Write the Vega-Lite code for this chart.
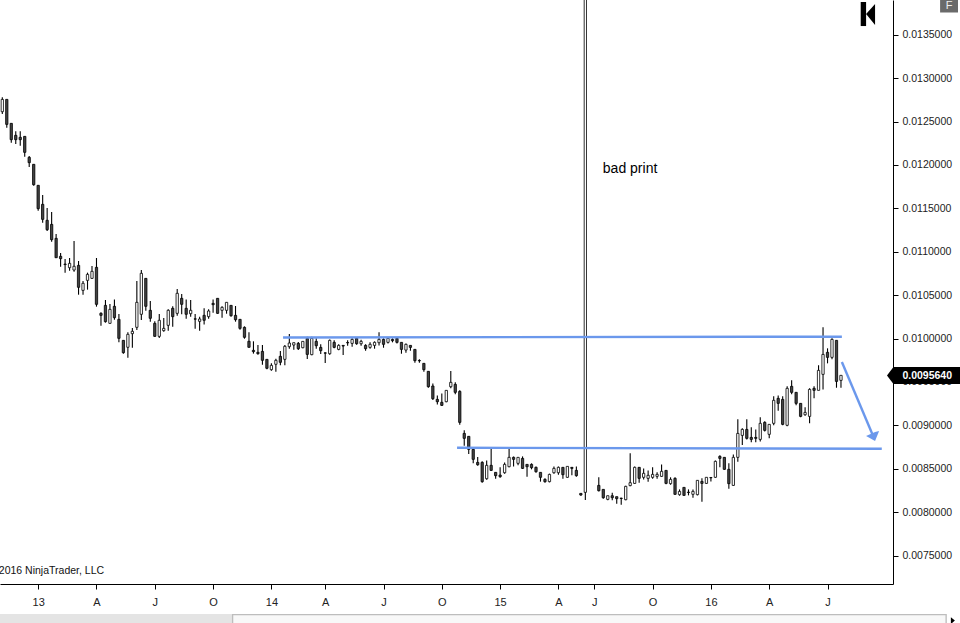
{
  "$schema": "https://vega.github.io/schema/vega-lite/v6.json",
  "width": 893,
  "height": 584,
  "autosize": "none",
  "padding": {"left": 0, "top": 0, "right": 67, "bottom": 39},
  "background": "white",
  "config": {"view": {"stroke": null}, "font": "Liberation Sans"},
  "datasets": {
    "candles": [
      {"bar":0,"open":0.012613,"high":0.012779,"low":0.012586,"close":0.012755},
      {"bar":1,"open":0.012755,"high":0.012755,"low":0.012429,"close":0.012467},
      {"bar":2,"open":0.012479,"high":0.012479,"low":0.012256,"close":0.012291},
      {"bar":3,"open":0.012341,"high":0.012387,"low":0.012241,"close":0.012291},
      {"bar":4,"open":0.012318,"high":0.012387,"low":0.012222,"close":0.012291},
      {"bar":5,"open":0.012329,"high":0.012329,"low":0.012095,"close":0.012145},
      {"bar":6,"open":0.012087,"high":0.012103,"low":0.011976,"close":0.012026},
      {"bar":7,"open":0.012007,"high":0.012007,"low":0.011761,"close":0.011772},
      {"bar":8,"open":0.011765,"high":0.011765,"low":0.011473,"close":0.011496},
      {"bar":9,"open":0.011546,"high":0.011653,"low":0.011335,"close":0.011373},
      {"bar":10,"open":0.011362,"high":0.011504,"low":0.011239,"close":0.011254},
      {"bar":11,"open":0.011315,"high":0.011458,"low":0.011116,"close":0.011139},
      {"bar":12,"open":0.011154,"high":0.011204,"low":0.010931,"close":0.010931},
      {"bar":13,"open":0.010947,"high":0.010985,"low":0.010828,"close":0.01092},
      {"bar":14,"open":0.010858,"high":0.010916,"low":0.010759,"close":0.010852},
      {"bar":15,"open":0.010816,"high":0.010928,"low":0.010782,"close":0.010866},
      {"bar":16,"open":0.010789,"high":0.011123,"low":0.01077,"close":0.010832},
      {"bar":17,"open":0.010843,"high":0.010893,"low":0.010505,"close":0.01059},
      {"bar":18,"open":0.010555,"high":0.010663,"low":0.010505,"close":0.010636},
      {"bar":19,"open":0.01067,"high":0.010759,"low":0.010563,"close":0.010739},
      {"bar":20,"open":0.010693,"high":0.010835,"low":0.010686,"close":0.010774},
      {"bar":21,"open":0.01082,"high":0.010928,"low":0.010367,"close":0.010394},
      {"bar":22,"open":0.01029,"high":0.010302,"low":0.010148,"close":0.010267},
      {"bar":23,"open":0.010382,"high":0.010444,"low":0.010183,"close":0.010194},
      {"bar":24,"open":0.010175,"high":0.010398,"low":0.010171,"close":0.010336},
      {"bar":25,"open":0.010371,"high":0.010451,"low":0.010217,"close":0.01024},
      {"bar":26,"open":0.010221,"high":0.010283,"low":0.009956,"close":0.010002},
      {"bar":27,"open":0.009979,"high":0.009979,"low":0.009826,"close":0.009837},
      {"bar":28,"open":0.009899,"high":0.010071,"low":0.009779,"close":0.010048},
      {"bar":29,"open":0.010056,"high":0.010121,"low":0.009895,"close":0.010083},
      {"bar":30,"open":0.010129,"high":0.010663,"low":0.010098,"close":0.010417},
      {"bar":31,"open":0.010279,"high":0.010789,"low":0.010213,"close":0.010751},
      {"bar":32,"open":0.010693,"high":0.010693,"low":0.010321,"close":0.010371},
      {"bar":33,"open":0.010325,"high":0.010432,"low":0.010194,"close":0.010233},
      {"bar":34,"open":0.010175,"high":0.010198,"low":0.010021,"close":0.010025},
      {"bar":35,"open":0.010025,"high":0.010283,"low":0.010006,"close":0.01021},
      {"bar":36,"open":0.010091,"high":0.010236,"low":0.010079,"close":0.010117},
      {"bar":37,"open":0.010152,"high":0.010336,"low":0.010091,"close":0.010325},
      {"bar":38,"open":0.010348,"high":0.010371,"low":0.010137,"close":0.010252},
      {"bar":39,"open":0.01029,"high":0.010571,"low":0.010263,"close":0.010521},
      {"bar":40,"open":0.010463,"high":0.010513,"low":0.010279,"close":0.010394},
      {"bar":41,"open":0.010348,"high":0.010451,"low":0.010229,"close":0.010279},
      {"bar":42,"open":0.010286,"high":0.010444,"low":0.010252,"close":0.010325},
      {"bar":43,"open":0.010227,"high":0.010283,"low":0.010114,"close":0.010223},
      {"bar":44,"open":0.010198,"high":0.010252,"low":0.010091,"close":0.010225},
      {"bar":45,"open":0.010267,"high":0.010348,"low":0.010163,"close":0.01021},
      {"bar":46,"open":0.010252,"high":0.010336,"low":0.010229,"close":0.010317},
      {"bar":47,"open":0.010405,"high":0.010451,"low":0.010298,"close":0.01039},
      {"bar":48,"open":0.010463,"high":0.010463,"low":0.010286,"close":0.01029},
      {"bar":49,"open":0.010325,"high":0.010371,"low":0.01024,"close":0.010359},
      {"bar":50,"open":0.010325,"high":0.010417,"low":0.010286,"close":0.010417},
      {"bar":51,"open":0.010382,"high":0.010382,"low":0.010252,"close":0.010263},
      {"bar":52,"open":0.010267,"high":0.010375,"low":0.010194,"close":0.010217},
      {"bar":53,"open":0.010221,"high":0.010221,"low":0.010102,"close":0.010117},
      {"bar":54,"open":0.010129,"high":0.01014,"low":0.009998,"close":0.010014},
      {"bar":55,"open":0.009968,"high":0.010071,"low":0.009895,"close":0.009899},
      {"bar":56,"open":0.009864,"high":0.009968,"low":0.009826,"close":0.009849},
      {"bar":57,"open":0.009841,"high":0.009925,"low":0.009814,"close":0.009826},
      {"bar":58,"open":0.009852,"high":0.009925,"low":0.009699,"close":0.009749},
      {"bar":59,"open":0.00976,"high":0.00976,"low":0.009645,"close":0.009657},
      {"bar":60,"open":0.009641,"high":0.009714,"low":0.00963,"close":0.009691},
      {"bar":61,"open":0.009703,"high":0.009768,"low":0.009618,"close":0.009749},
      {"bar":62,"open":0.009795,"high":0.009856,"low":0.009691,"close":0.009726},
      {"bar":63,"open":0.00976,"high":0.009925,"low":0.009691,"close":0.00991},
      {"bar":64,"open":0.009906,"high":0.010052,"low":0.009883,"close":0.009948},
      {"bar":65,"open":0.009925,"high":0.009952,"low":0.009871,"close":0.009952},
      {"bar":66,"open":0.009944,"high":0.00996,"low":0.009867,"close":0.009883},
      {"bar":67,"open":0.009894,"high":0.009967,"low":0.009887,"close":0.009967},
      {"bar":68,"open":0.010002,"high":0.010021,"low":0.009764,"close":0.009817},
      {"bar":69,"open":0.009814,"high":0.010021,"low":0.009806,"close":0.010002},
      {"bar":70,"open":0.009967,"high":0.010002,"low":0.009883,"close":0.009917},
      {"bar":71,"open":0.009898,"high":0.009933,"low":0.009821,"close":0.00986},
      {"bar":72,"open":0.009835,"high":0.009841,"low":0.009718,"close":0.009831},
      {"bar":73,"open":0.009825,"high":0.00999,"low":0.009814,"close":0.009979},
      {"bar":74,"open":0.009956,"high":0.009979,"low":0.009887,"close":0.009898},
      {"bar":75,"open":0.009875,"high":0.009933,"low":0.009864,"close":0.009921},
      {"bar":76,"open":0.009921,"high":0.009921,"low":0.00981,"close":0.009913},
      {"bar":77,"open":0.009954,"high":0.009979,"low":0.009917,"close":0.00995},
      {"bar":78,"open":0.009944,"high":0.010002,"low":0.009906,"close":0.00999},
      {"bar":79,"open":0.010002,"high":0.010002,"low":0.009929,"close":0.00994},
      {"bar":80,"open":0.00994,"high":0.009986,"low":0.009917,"close":0.009967},
      {"bar":81,"open":0.009921,"high":0.009933,"low":0.00986,"close":0.009883},
      {"bar":82,"open":0.009898,"high":0.009956,"low":0.009883,"close":0.009933},
      {"bar":83,"open":0.009921,"high":0.009967,"low":0.009883,"close":0.009956},
      {"bar":84,"open":0.009952,"high":0.010071,"low":0.009921,"close":0.00999},
      {"bar":85,"open":0.00999,"high":0.010002,"low":0.009894,"close":0.009933},
      {"bar":86,"open":0.009956,"high":0.010002,"low":0.009944,"close":0.010002},
      {"bar":87,"open":0.00999,"high":0.010002,"low":0.009956,"close":0.009975},
      {"bar":88,"open":0.010002,"high":0.010013,"low":0.009944,"close":0.009956},
      {"bar":89,"open":0.009956,"high":0.009956,"low":0.009825,"close":0.009875},
      {"bar":90,"open":0.009867,"high":0.009944,"low":0.009837,"close":0.009933},
      {"bar":91,"open":0.009921,"high":0.009921,"low":0.00986,"close":0.009898},
      {"bar":92,"open":0.009875,"high":0.009875,"low":0.009721,"close":0.009745},
      {"bar":93,"open":0.009747,"high":0.00976,"low":0.009721,"close":0.009743},
      {"bar":94,"open":0.009714,"high":0.009714,"low":0.009618,"close":0.009641},
      {"bar":95,"open":0.009622,"high":0.009622,"low":0.009433,"close":0.009445},
      {"bar":96,"open":0.009453,"high":0.009483,"low":0.009291,"close":0.009307},
      {"bar":97,"open":0.009299,"high":0.009345,"low":0.009241,"close":0.009272},
      {"bar":98,"open":0.009265,"high":0.009368,"low":0.009222,"close":0.00923},
      {"bar":99,"open":0.009272,"high":0.009403,"low":0.009265,"close":0.009403},
      {"bar":100,"open":0.009445,"high":0.009625,"low":0.009426,"close":0.009495},
      {"bar":101,"open":0.009472,"high":0.009495,"low":0.009357,"close":0.00938},
      {"bar":102,"open":0.009391,"high":0.009403,"low":0.009007,"close":0.009034},
      {"bar":103,"open":0.008907,"high":0.008942,"low":0.008765,"close":0.00885},
      {"bar":104,"open":0.008873,"high":0.008873,"low":0.008669,"close":0.008723},
      {"bar":105,"open":0.008723,"high":0.008735,"low":0.008562,"close":0.008608},
      {"bar":106,"open":0.008573,"high":0.008635,"low":0.008535,"close":0.008546},
      {"bar":107,"open":0.008573,"high":0.008585,"low":0.008339,"close":0.008351},
      {"bar":108,"open":0.008385,"high":0.008596,"low":0.008374,"close":0.008539},
      {"bar":109,"open":0.008539,"high":0.008727,"low":0.008473,"close":0.008481},
      {"bar":110,"open":0.008458,"high":0.008458,"low":0.008385,"close":0.00842},
      {"bar":111,"open":0.008427,"high":0.008516,"low":0.008397,"close":0.008408},
      {"bar":112,"open":0.008454,"high":0.008573,"low":0.008443,"close":0.00855},
      {"bar":113,"open":0.008523,"high":0.008735,"low":0.008516,"close":0.008631},
      {"bar":114,"open":0.008631,"high":0.008642,"low":0.008527,"close":0.008608},
      {"bar":115,"open":0.008562,"high":0.008631,"low":0.008539,"close":0.008631},
      {"bar":116,"open":0.008619,"high":0.008642,"low":0.008497,"close":0.008504},
      {"bar":117,"open":0.00855,"high":0.00855,"low":0.008408,"close":0.008523},
      {"bar":118,"open":0.00855,"high":0.008562,"low":0.008493,"close":0.008512},
      {"bar":119,"open":0.008516,"high":0.008527,"low":0.008454,"close":0.008466},
      {"bar":120,"open":0.008458,"high":0.008458,"low":0.008351,"close":0.008401},
      {"bar":121,"open":0.008377,"high":0.008389,"low":0.008339,"close":0.008351},
      {"bar":122,"open":0.008351,"high":0.008443,"low":0.008343,"close":0.008435},
      {"bar":123,"open":0.008454,"high":0.008527,"low":0.008443,"close":0.008504},
      {"bar":124,"open":0.008454,"high":0.008527,"low":0.008431,"close":0.008516},
      {"bar":125,"open":0.008516,"high":0.008516,"low":0.008385,"close":0.008431},
      {"bar":126,"open":0.008401,"high":0.008527,"low":0.008397,"close":0.008527},
      {"bar":127,"open":0.008516,"high":0.008516,"low":0.008424,"close":0.008504},
      {"bar":128,"open":0.008481,"high":0.008527,"low":0.008408,"close":0.00842},
      {"bar":129,"open":0.008216,"high":0.008216,"low":0.008189,"close":0.008197},
      {"bar":130,"open":0.008228,"high":0.0145,"low":0.008139,"close":0.0145},
      {"bar":133,"open":0.008308,"high":0.008401,"low":0.008239,"close":0.008247},
      {"bar":134,"open":0.008262,"high":0.008262,"low":0.008155,"close":0.008166},
      {"bar":135,"open":0.008147,"high":0.008189,"low":0.008136,"close":0.008189},
      {"bar":136,"open":0.008189,"high":0.008224,"low":0.008136,"close":0.008166},
      {"bar":137,"open":0.008178,"high":0.008178,"low":0.008097,"close":0.008155},
      {"bar":138,"open":0.008161,"high":0.008166,"low":0.008086,"close":0.008157},
      {"bar":139,"open":0.008143,"high":0.008305,"low":0.008136,"close":0.008297},
      {"bar":140,"open":0.008305,"high":0.008677,"low":0.008297,"close":0.008339},
      {"bar":141,"open":0.008331,"high":0.008527,"low":0.008328,"close":0.008516},
      {"bar":142,"open":0.008516,"high":0.008516,"low":0.008339,"close":0.008389},
      {"bar":143,"open":0.008401,"high":0.008504,"low":0.008377,"close":0.008447},
      {"bar":144,"open":0.008389,"high":0.008481,"low":0.008351,"close":0.008424},
      {"bar":145,"open":0.008401,"high":0.008516,"low":0.008385,"close":0.008435},
      {"bar":146,"open":0.008412,"high":0.008458,"low":0.008385,"close":0.008435},
      {"bar":147,"open":0.008412,"high":0.00855,"low":0.008408,"close":0.00847},
      {"bar":148,"open":0.008481,"high":0.008481,"low":0.00832,"close":0.008331},
      {"bar":149,"open":0.008328,"high":0.008401,"low":0.008316,"close":0.008377},
      {"bar":150,"open":0.008389,"high":0.008401,"low":0.008201,"close":0.008205},
      {"bar":151,"open":0.008201,"high":0.008262,"low":0.008189,"close":0.008239},
      {"bar":152,"open":0.008285,"high":0.008285,"low":0.008189,"close":0.008193},
      {"bar":153,"open":0.00823,"high":0.008262,"low":0.008193,"close":0.008226},
      {"bar":154,"open":0.008205,"high":0.008262,"low":0.008166,"close":0.008239},
      {"bar":155,"open":0.008201,"high":0.008366,"low":0.008193,"close":0.008366},
      {"bar":156,"open":0.008354,"high":0.008389,"low":0.00812,"close":0.008331},
      {"bar":157,"open":0.008331,"high":0.008401,"low":0.008328,"close":0.008401},
      {"bar":158,"open":0.008399,"high":0.008399,"low":0.008354,"close":0.008395},
      {"bar":159,"open":0.008401,"high":0.008596,"low":0.008397,"close":0.008585},
      {"bar":160,"open":0.008642,"high":0.008654,"low":0.008516,"close":0.008619},
      {"bar":161,"open":0.008631,"high":0.008631,"low":0.008489,"close":0.008493},
      {"bar":162,"open":0.008493,"high":0.008562,"low":0.00827,"close":0.008328},
      {"bar":163,"open":0.008308,"high":0.008665,"low":0.008305,"close":0.008631},
      {"bar":164,"open":0.008631,"high":0.009069,"low":0.008581,"close":0.008907},
      {"bar":165,"open":0.008884,"high":0.008965,"low":0.008773,"close":0.008953},
      {"bar":166,"open":0.008953,"high":0.009069,"low":0.008838,"close":0.00885},
      {"bar":167,"open":0.008861,"high":0.008977,"low":0.008804,"close":0.008838},
      {"bar":168,"open":0.008861,"high":0.008953,"low":0.008804,"close":0.00885},
      {"bar":169,"open":0.008838,"high":0.009092,"low":0.008815,"close":0.009023},
      {"bar":170,"open":0.009034,"high":0.009046,"low":0.00893,"close":0.008942},
      {"bar":171,"open":0.008896,"high":0.009011,"low":0.00885,"close":0.009011},
      {"bar":172,"open":0.009023,"high":0.009334,"low":0.009,"close":0.009288},
      {"bar":173,"open":0.009311,"high":0.009345,"low":0.009169,"close":0.009253},
      {"bar":174,"open":0.009299,"high":0.009334,"low":0.009,"close":0.009011},
      {"bar":175,"open":0.009,"high":0.009449,"low":0.008988,"close":0.009426},
      {"bar":176,"open":0.009449,"high":0.009518,"low":0.009357,"close":0.00938},
      {"bar":177,"open":0.00938,"high":0.00938,"low":0.00923,"close":0.009253},
      {"bar":178,"open":0.009253,"high":0.009253,"low":0.009092,"close":0.009103},
      {"bar":179,"open":0.009122,"high":0.009207,"low":0.009111,"close":0.009149},
      {"bar":180,"open":0.009103,"high":0.009426,"low":0.009023,"close":0.009414},
      {"bar":181,"open":0.009426,"high":0.009449,"low":0.009311,"close":0.009403},
      {"bar":182,"open":0.009403,"high":0.009691,"low":0.009403,"close":0.009633},
      {"bar":183,"open":0.009587,"high":0.010129,"low":0.009414,"close":0.009817},
      {"bar":184,"open":0.009841,"high":0.009887,"low":0.009714,"close":0.009783},
      {"bar":185,"open":0.009783,"high":0.010002,"low":0.00976,"close":0.00999},
      {"bar":186,"open":0.009979,"high":0.009979,"low":0.009433,"close":0.009506},
      {"bar":187,"open":0.009518,"high":0.009576,"low":0.009433,"close":0.009576}
    ],
    "lines": [
      {"line":"resistance","bar":62.6,"bar2":187.2,"price":0.010012,"price2":0.010021},
      {"line":"support","bar":101.4,"bar2":196.1,"price":0.008742,"price2":0.00873},
      {"line":"arrow","bar":187.2,"bar2":194.03,"price":0.009729,"price2":0.008894}
    ],
    "head": [
      {"bar":192.6,"price":0.008877,"price2":0.008877},
      {"bar":194.6,"price":0.008923,"price2":0.008819},
      {"bar":195.5,"price":0.008934,"price2":0.008934}
    ],
    "boxes": [
      {"part":"tag","bar":198.6,"bar2":213.7,"price":0.009672,"price2":0.009476},
      {"part":"nav","bar":191.4,"bar2":192.6,"price":0.013877,"price2":0.0136},
      {"part":"button","bar":209.1,"bar2":213.1,"price":0.0139,"price2":0.013756},
      {"part":"track","bar":-0.513,"bar2":51.2,"price":0.006826,"price2":0.006722},
      {"part":"thumbEdge","bar":51.2,"bar2":210.6,"price":0.006826,"price2":0.006722},
      {"part":"thumb","bar":51.5,"bar2":210.3,"price":0.006811,"price2":0.006722}
    ],
    "wedges": [
      {"part":"tag","bar":197.26,"price":0.009574,"price2":0.009574},
      {"part":"tag","bar":198.7,"price":0.009672,"price2":0.009476},
      {"part":"nav","bar":192.6,"price":0.013739,"price2":0.013739},
      {"part":"nav","bar":194.6,"price":0.013854,"price2":0.013612},
      {"part":"scroll","bar":211.5,"price":0.00679,"price2":0.006711},
      {"part":"scroll","bar":212.4,"price":0.006751,"price2":0.006751}
    ]
  },
  "encoding": {
    "x": {
      "field": "bar",
      "type": "quantitative",
      "title": null,
      "scale": {"domain": [-0.513, 198.6], "nice": false, "zero": false, "padding": 0},
      "axis": {
        "orient": "bottom",
        "grid": false,
        "values": [8, 21, 34, 47, 60, 72, 85, 98, 111, 124, 132, 145, 158, 171, 184],
        "labelExpr": "{'8':'13','21':'A','34':'J','47':'O','60':'14','72':'A','85':'J','98':'O','111':'15','124':'A','132':'J','145':'O','158':'16','171':'A','184':'J'}[datum.value]",
        "domainColor": "black",
        "domainWidth": 1,
        "tickColor": "black",
        "tickSize": 5,
        "labelColor": "#222222",
        "labelFontSize": 11,
        "labelFont": "Liberation Sans",
        "labelPadding": 7,
        "labelOverlap": false,
        "labelFlush": false
      }
    },
    "y": {
      "field": "price",
      "type": "quantitative",
      "title": null,
      "scale": {"domain": [0.007172, 0.0139], "nice": false, "zero": false},
      "axis": {"orient": "right", "grid": false, "values": [0.0075, 0.008, 0.0085, 0.009, 0.0095, 0.01, 0.0105, 0.011, 0.0115, 0.012, 0.0125, 0.013, 0.0135], "format": ".7f", "domainColor": "black", "domainWidth": 1, "tickColor": "black", "tickSize": 5, "labelColor": "#222222", "labelFontSize": 10.5, "labelFont": "Liberation Sans", "labelPadding": 4, "labelOverlap": false, "labelFlush": false}
    }
  },
  "layer": [
    {
      "data": {"name": "candles"},
      "mark": {"type": "rule", "color": "black", "strokeWidth": 1.1, "clip": true},
      "encoding": {
        "y": {"field": "low", "type": "quantitative", "title": null, "scale": {"domain": [0.007172, 0.0139], "nice": false, "zero": false},
          "axis": {"orient": "right", "grid": false, "values": [0.0075, 0.008, 0.0085, 0.009, 0.0095, 0.01, 0.0105, 0.011, 0.0115, 0.012, 0.0125, 0.013, 0.0135], "format": ".7f", "domainColor": "black", "domainWidth": 1, "tickColor": "black", "tickSize": 5, "labelColor": "#222222", "labelFontSize": 10.5, "labelFont": "Liberation Sans", "labelPadding": 4, "labelOverlap": false, "labelFlush": false}},
        "y2": {"field": "high"}
      }
    },
    {
      "data": {"name": "candles"},
      "mark": {"type": "bar", "orient": "vertical", "size": 2.3, "stroke": "black", "strokeWidth": 0.8, "clip": true},
      "encoding": {
        "y": {"field": "open", "type": "quantitative", "title": null, "scale": {"domain": [0.007172, 0.0139], "nice": false, "zero": false},
          "axis": {"orient": "right", "grid": false, "values": [0.0075, 0.008, 0.0085, 0.009, 0.0095, 0.01, 0.0105, 0.011, 0.0115, 0.012, 0.0125, 0.013, 0.0135], "format": ".7f", "domainColor": "black", "domainWidth": 1, "tickColor": "black", "tickSize": 5, "labelColor": "#222222", "labelFontSize": 10.5, "labelFont": "Liberation Sans", "labelPadding": 4, "labelOverlap": false, "labelFlush": false}},
        "y2": {"field": "close"},
        "fill": {"condition": {"test": "datum.close > datum.open", "value": "white"}, "value": "#444444"}
      }
    },
    {
      "data": {"name": "lines"},
      "mark": {"type": "rule", "color": "#6b98ec", "strokeWidth": 2.4},
      "encoding": {"x2": {"field": "bar2"}, "y2": {"field": "price2"}}
    },
    {
      "data": {"name": "head"},
      "mark": {"type": "area", "color": "#6b98ec", "opacity": 1},
      "encoding": {"y2": {"field": "price2"}}
    },
    {
      "data": {"name": "boxes"},
      "mark": {"type": "rect"},
      "encoding": {
        "x2": {"field": "bar2"},
        "y2": {"field": "price2"},
        "color": {
          "field": "part",
          "type": "nominal",
          "legend": null,
          "scale": {
            "domain": ["tag", "nav", "button", "track", "thumbEdge", "thumb"],
            "range": ["black", "black", "#6a6a6a", "#e4e4e4", "#bdbdbd", "#f8f8f8"]
          }
        }
      }
    },
    {
      "data": {"name": "wedges"},
      "mark": {"type": "area", "color": "black", "opacity": 1},
      "encoding": {
        "y2": {"field": "price2"},
        "detail": {"field": "part"}
      }
    },
    {
      "data": {"values": [{"bar": 133.9, "price": 0.011954, "note": "bad print"}]},
      "mark": {"type": "text", "align": "left", "baseline": "middle", "font": "Liberation Sans", "fontSize": 14, "color": "black"},
      "encoding": {"text": {"field": "note"}}
    },
    {
      "data": {"values": [{"bar": 22.7, "price": 0.007321, "note": "2016 NinjaTrader, LLC"}]},
      "mark": {"type": "text", "align": "right", "baseline": "middle", "font": "Liberation Sans", "fontSize": 10.5, "color": "#111111"},
      "encoding": {"text": {"field": "note"}}
    },
    {
      "data": {"values": [{"bar": 200.7, "price": 0.009574, "note": "0.0095640"}]},
      "mark": {"type": "text", "align": "left", "baseline": "middle", "font": "Liberation Sans", "fontSize": 10.5, "fontWeight": "bold", "color": "white"},
      "encoding": {"text": {"field": "note"}}
    },
    {
      "data": {"values": [{"bar": 211.1, "price": 0.013828, "note": "F"}]},
      "mark": {"type": "text", "align": "center", "baseline": "middle", "font": "Liberation Sans", "fontSize": 11, "color": "#eeeeee"},
      "encoding": {"text": {"field": "note"}}
    }
  ]
}
